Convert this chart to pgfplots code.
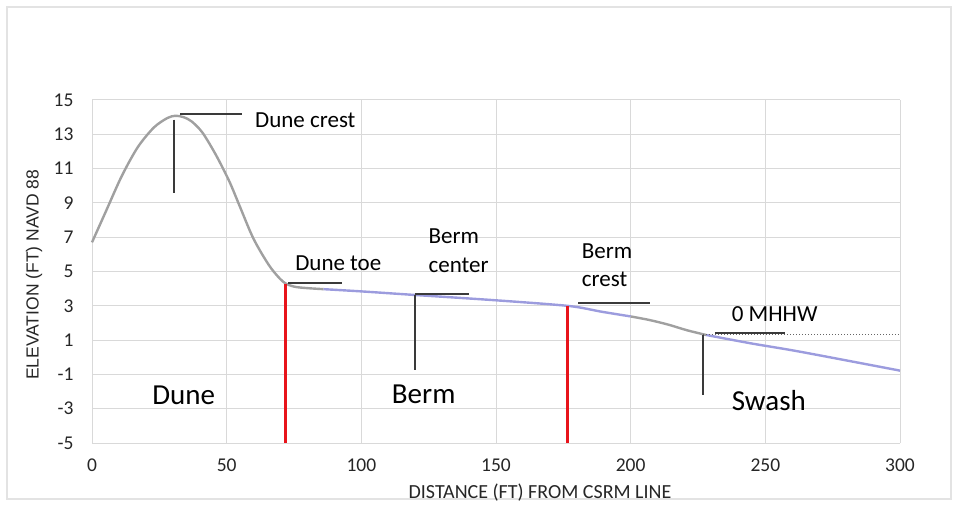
\documentclass[border=0pt]{standalone}
\usepackage{fontspec}
\setmainfont{Carlito}
\newfontfamily\arialfont{Liberation Sans}
\usepackage{pgfplots}
\pgfplotsset{compat=1.18}
\definecolor{gridc}{HTML}{D9D9D9}
\definecolor{framec}{HTML}{E3E3E3}
\definecolor{curvegray}{HTML}{A0A0A0}
\definecolor{curveblue}{HTML}{9C9CDE}
\definecolor{annot}{HTML}{3A3A3A}
\definecolor{redline}{HTML}{E8141B}
\begin{document}
\begin{tikzpicture}[x=1pt,y=1pt]
\path[use as bounding box] (0,0) rectangle (958,506);
\draw[framec, line width=1.2pt] (7,7) rectangle (951,499);
\begin{axis}[
  at={(92pt,63pt)}, anchor=south west, scale only axis,
  width=808pt, height=343pt,
  xmin=0, xmax=300, ymin=-5, ymax=15,
  xtick={0,50,...,300}, ytick={-5,-3,...,15},
  grid=major, major grid style={gridc, line width=1pt},
  axis line style={draw=none},
  major tick length=0pt,
  tick label style={font=\fontsize{19.5}{20}\selectfont, text=black!85},
  /pgf/number format/assume math mode=true,
  xticklabel style={yshift=-12pt},
  yticklabel style={xshift=-15pt},
  clip=false,
  xlabel={DISTANCE (FT) FROM CSRM LINE},
  xlabel style={at={(axis description cs:0.5545,-0.1458)}, anchor=center, font=\fontsize{20}{20}\selectfont, text=black!85},
  ylabel={ELEVATION (FT) NAVD 88},
  ylabel style={at={(axis description cs:-0.0718,0.49)}, anchor=center, font=\arialfont\fontsize{17.5}{18}\selectfont, text=black!85},
]
% profile curve
\addplot[curvegray, line width=2.4pt, smooth] coordinates {(0,6.7)(5,8.45)(11,10.55)(17,12.25)(23,13.4)(28,13.95)(31,14.08)(34,14.0)(37,13.75)(41,13.1)(46,11.8)(51,10.25)(55,8.75)(60,6.9)(66,5.3)(71,4.4)(75,4.12)(80,4.03)(86,3.97)};
\addplot[curveblue, line width=2.4pt, smooth] coordinates {(86,3.97)(100,3.84)(120,3.63)(150,3.32)(177,2.99)(189,2.66)(200,2.38)};
\addplot[curvegray, line width=2.4pt, smooth] coordinates {(200,2.38)(207,2.17)(214,1.9)(221,1.57)(228,1.3)};
\addplot[curveblue, line width=2.4pt, smooth] coordinates {(228,1.3)(245,0.8)(263,0.32)(300,-0.78)};
% red boundaries
\addplot[redline, line width=3pt] coordinates {(72,4.3)(72,-5)};
\addplot[redline, line width=3pt] coordinates {(176.7,3.0)(176.7,-5)};
% annotation lines
\draw[annot, line width=1.8pt] (axis cs:32.7,14.18) -- (axis cs:55.8,14.18);
\draw[annot, line width=1.8pt] (axis cs:30.5,13.85) -- (axis cs:30.5,9.6);
\draw[annot, line width=1.8pt] (axis cs:72.9,4.35) -- (axis cs:92.7,4.35);
\draw[annot, line width=1.8pt] (axis cs:119.9,3.71) -- (axis cs:140.1,3.71);
\draw[annot, line width=1.8pt] (axis cs:119.9,3.65) -- (axis cs:119.9,-0.74);
\draw[annot, line width=1.8pt] (axis cs:180.6,3.15) -- (axis cs:207.2,3.15);
\draw[annot, line width=1.8pt] (axis cs:231.3,1.40) -- (axis cs:257.3,1.40);
\draw[annot, line width=1.8pt] (axis cs:227,1.3) -- (axis cs:227,-2.2);
\draw[black!60, dotted, line width=1pt] (axis cs:227,1.3) -- (axis cs:300,1.3);
% annotation text
\node[anchor=base west, inner sep=0, font=\fontsize{23}{23}\selectfont] at (axis cs:60.5,13.37) {Dune crest};
\node[anchor=base west, inner sep=0, font=\fontsize{23}{23}\selectfont] at (axis cs:75.4,5.05) {Dune toe};
\node[anchor=base west, inner sep=0, font=\fontsize{23}{23}\selectfont] at (axis cs:124.9,6.64) {Berm};
\node[anchor=base west, inner sep=0, font=\fontsize{23}{23}\selectfont] at (axis cs:124.9,4.95) {center};
\node[anchor=base west, inner sep=0, font=\fontsize{23}{23}\selectfont] at (axis cs:181.8,5.77) {Berm};
\node[anchor=base west, inner sep=0, font=\fontsize{23}{23}\selectfont] at (axis cs:181.8,4.11) {crest};
\node[anchor=base west, inner sep=0, font=\fontsize{23}{23}\selectfont] at (axis cs:237.5,2.07) {0 MHHW};
\node[anchor=base west, inner sep=0, font=\fontsize{29}{29}\selectfont] at (axis cs:22.3,-2.73) {Dune};
\node[anchor=base west, inner sep=0, font=\fontsize{29}{29}\selectfont] at (axis cs:111.3,-2.69) {Berm};
\node[anchor=base west, inner sep=0, font=\fontsize{29}{29}\selectfont] at (axis cs:237.5,-3.08) {Swash};
\end{axis}
\end{tikzpicture}
\end{document}
